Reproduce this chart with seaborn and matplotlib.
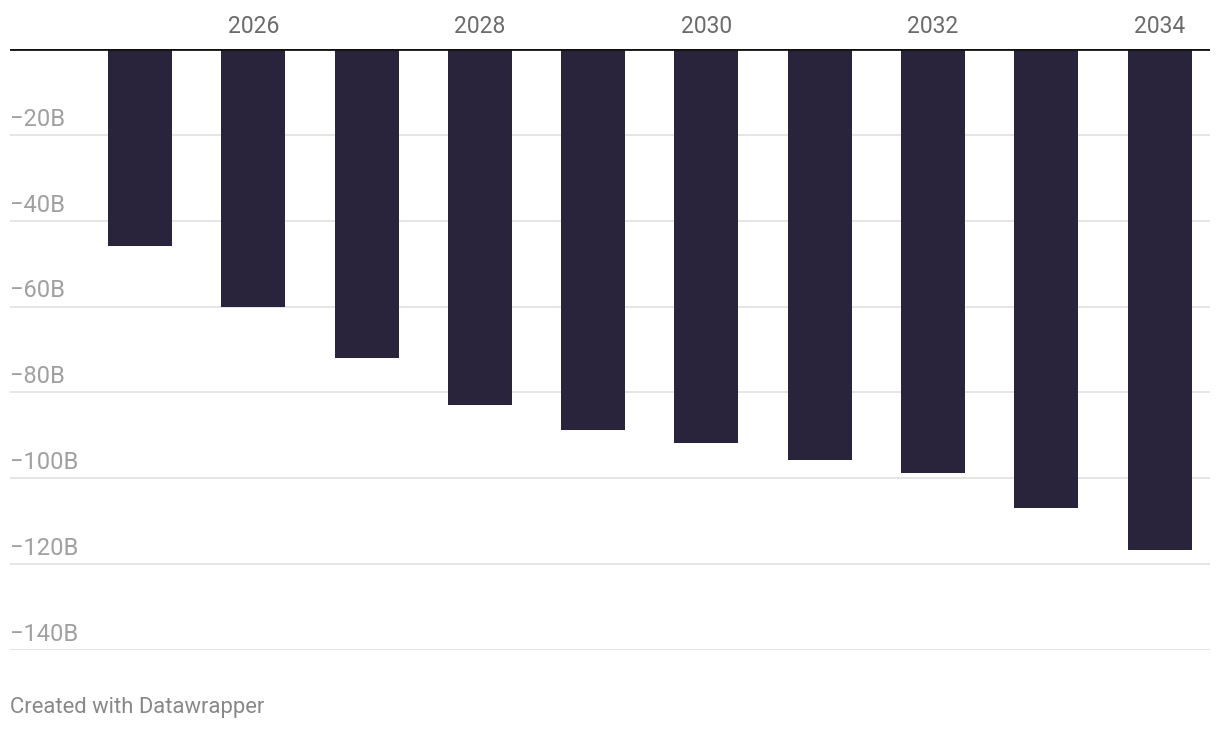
import matplotlib
matplotlib.use("Agg")
import matplotlib.pyplot as plt
import seaborn as sns
import pandas as pd

years = ["2025", "2026", "2027", "2028", "2029", "2030", "2031", "2032", "2033", "2034"]
values = [-46, -60, -72, -83, -88.8, -91.8, -95.8, -98.8, -107, -116.8]
ytick_vals = [-20, -40, -60, -80, -100, -120, -140]
ytick_labels = ["\u221220B", "\u221240B", "\u221260B", "\u221280B", "\u2212100B", "\u2212120B", "\u2212140B"]
xtick_years = ["2026", "2028", "2030", "2032", "2034"]

sns.set_theme(style="white")
plt.rcParams["font.family"] = ["Roboto", "DejaVu Sans"]

df = pd.DataFrame({"year": years, "value": values})

fig = plt.figure(figsize=(12.2, 7.32), dpi=100)
ax = fig.add_axes([10 / 1220, 1 - 650 / 732, 1200 / 1220, (650 - 49) / 732])

sns.barplot(data=df, x="year", y="value", order=years, color="#29233b",
            saturation=1, width=0.565, ax=ax, zorder=3, linewidth=0)

ax.set_ylim(-140, 0)
ax.set_xlim(-1.147, 9.444)
ax.set_xlabel("")
ax.set_ylabel("")

# gridlines
for v in ytick_vals:
    ax.axhline(v, color="#e3e3e3", lw=1.3, zorder=1)
ax.axhline(0, color="#111111", lw=2.0, zorder=4)

for s in ax.spines.values():
    s.set_visible(False)

ax.set_yticks([])
for v, lab in zip(ytick_vals, ytick_labels):
    ax.annotate(lab, xy=(0, v), xycoords=("axes fraction", "data"),
                xytext=(0, 3), textcoords="offset points",
                ha="left", va="bottom", fontsize=17, color="#a0a0a0")

ax.xaxis.tick_top()
ax.set_xticks([years.index(y) for y in xtick_years])
ax.set_xticklabels(xtick_years, fontsize=16.5, color="#6b6b6b")
ax.tick_params(axis="x", length=0, pad=8)

fig.text(10 / 1220, 1 - 708 / 732, "Created with Datawrapper", ha="left", va="center",
         fontsize=15.8, color="#888888")

fig.savefig("out.png", dpi=100, facecolor="white")
